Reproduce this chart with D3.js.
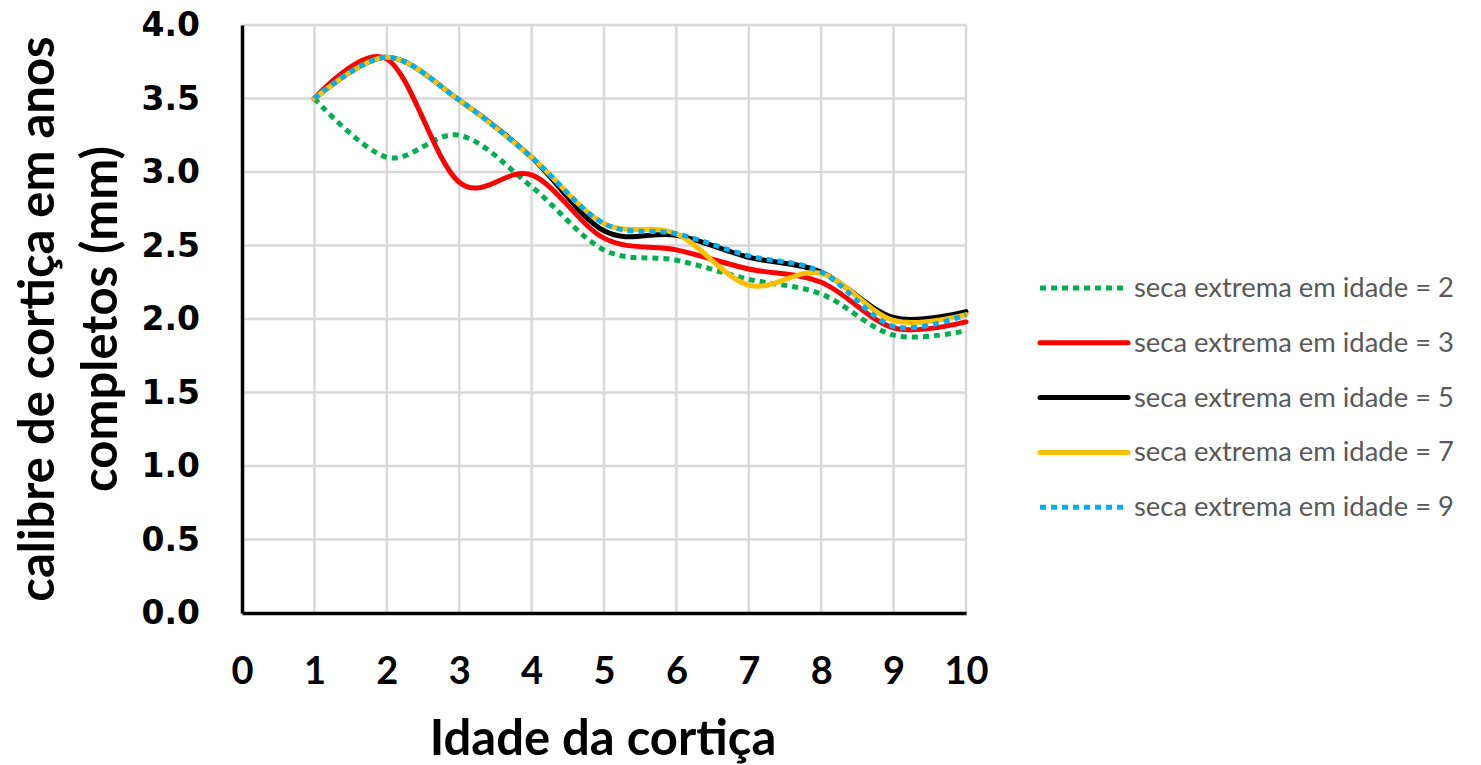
<!DOCTYPE html>
<html>
<head>
<meta charset="utf-8">
<script src="https://cdn.jsdelivr.net/npm/d3@7"></script>
<style>
  body { margin: 0; background: #fff; }
  svg { display: block; }
</style>
</head>
<body>
<svg width="1481" height="765"></svg>
<script>

var idades = [1, 2, 3, 4, 5, 6, 7, 8, 9, 10];

var seca2 = [3.50, 3.10, 3.25, 2.90, 2.47, 2.40, 2.27, 2.17, 1.89, 1.92];
var seca3 = [3.50, 3.77, 2.93, 2.98, 2.55, 2.47, 2.34, 2.25, 1.94, 1.98];
var seca5 = [3.50, 3.78, 3.49, 3.10, 2.60, 2.57, 2.42, 2.32, 2.01, 2.05];
var seca7 = [3.50, 3.78, 3.49, 3.10, 2.65, 2.58, 2.23, 2.31, 1.99, 2.03];
var seca9 = [3.50, 3.78, 3.49, 3.10, 2.65, 2.58, 2.43, 2.32, 1.95, 2.03];

var nomes = ["seca extrema em idade = 2", "seca extrema em idade = 3", "seca extrema em idade = 5",
             "seca extrema em idade = 7", "seca extrema em idade = 9"];

var xTicks = [0, 1, 2, 3, 4, 5, 6, 7, 8, 9, 10];
var yTicks = [0, 0.5, 1, 1.5, 2, 2.5, 3, 3.5, 4];

var series = [
    {nome: nomes[0], valores: seca2, cor: "#00b050", dash: "6,5"},
    {nome: nomes[1], valores: seca3, cor: "#ff0000", dash: null},
    {nome: nomes[2], valores: seca5, cor: "#000000", dash: null},
    {nome: nomes[3], valores: seca7, cor: "#ffc000", dash: null},
    {nome: nomes[4], valores: seca9, cor: "#00b0f0", dash: "6,5"}
];

var svg = d3.select('svg');

var pLeft = 242, pRight = 966, pTop = 25, pBottom = 613;

var scaleX = d3.scaleLinear().domain([0, 10]).range([pLeft, pRight]);
var scaleY = d3.scaleLinear().domain([0, 4]).range([pBottom, pTop]);

// grelha
svg.append("g")
    .selectAll("line")
    .data(yTicks.filter(function(d){ return d > 0; }))
    .enter().append("line")
    .attr("x1", pLeft).attr("x2", pRight)
    .attr("y1", function(d){ return scaleY(d); })
    .attr("y2", function(d){ return scaleY(d); })
    .attr("stroke", "#d9d9d9").attr("stroke-width", 2.5);

svg.append("g")
    .selectAll("line")
    .data(xTicks.filter(function(d){ return d > 0; }))
    .enter().append("line")
    .attr("x1", function(d){ return scaleX(d); })
    .attr("x2", function(d){ return scaleX(d); })
    .attr("y1", pTop).attr("y2", pBottom)
    .attr("stroke", "#d9d9d9").attr("stroke-width", 2.5);

// eixos
var axY = svg.append("g")
    .attr("transform", "translate(" + pLeft + ",0)")
    .call(d3.axisLeft(scaleY).tickValues(yTicks).tickSize(0).tickPadding(42).tickFormat(d3.format(".1f")));
axY.select(".domain").attr("stroke", "#000").attr("stroke-width", 3.5);
axY.selectAll("text")
    .attr("font-family", "DejaVu Sans")
    .attr("font-weight", "bold")
    .attr("font-size", 33)
    .attr("fill", "#000");

var axX = svg.append("g")
    .attr("transform", "translate(0," + pBottom + ")")
    .call(d3.axisBottom(scaleX).tickValues(xTicks).tickSize(0).tickPadding(44));
axX.select(".domain").attr("stroke", "#000").attr("stroke-width", 3.5);
axX.selectAll("text")
    .attr("font-family", "Lato")
    .attr("font-weight", "bold")
    .attr("font-size", 38)
    .attr("fill", "#000");

// linhas
var linha = d3.line()
    .x(function(d, i){ return scaleX(idades[i]); })
    .y(function(d){ return scaleY(d); })
    .curve(d3.curveCardinal.tension(0));

series.forEach(function(s){
    svg.append("path")
        .attr("d", linha(s.valores))
        .attr("fill", "none")
        .attr("stroke", s.cor)
        .attr("stroke-width", 5)
        .attr("stroke-dasharray", s.dash)
        .attr("stroke-linecap", s.dash ? "butt" : "round");
});

// titulos
svg.append("text")
    .attr("x", 603).attr("y", 755)
    .attr("text-anchor", "middle")
    .attr("font-family", "Lato").attr("font-weight", "bold").attr("font-size", 49)
    .text("Idade da cortiça");

var ty = svg.append("text")
    .attr("transform", "translate(0,319) rotate(-90)")
    .attr("text-anchor", "middle")
    .attr("font-family", "Lato").attr("font-weight", "bold").attr("font-size", 49);
ty.append("tspan").attr("x", 0).attr("y", 54).text("calibre de cortiça em anos");
ty.append("tspan").attr("x", 0).attr("y", 117).text("completos (mm)");

// legenda
var leg = svg.append("g");
series.forEach(function(s, i){
    var y = 288 + i * 54.8;
    leg.append("line")
        .attr("x1", 1040).attr("x2", 1128)
        .attr("y1", y).attr("y2", y)
        .attr("stroke", s.cor)
        .attr("stroke-width", 5)
        .attr("stroke-dasharray", s.dash)
        .attr("stroke-linecap", s.dash ? "butt" : "round");
    leg.append("text")
        .attr("x", 1134).attr("y", y + 9)
        .attr("font-family", "Lato").attr("font-size", 27.4)
        .attr("fill", "#595959")
        .text(s.nome);
});

</script>
</body>
</html>
